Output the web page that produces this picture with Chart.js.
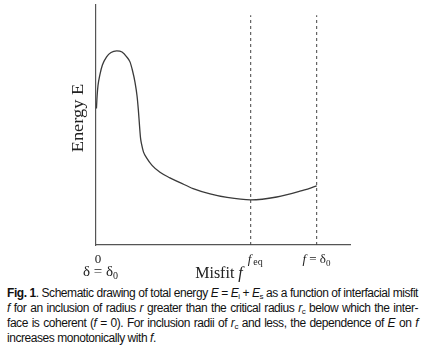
<!DOCTYPE html>
<html>
<head>
<meta charset="utf-8">
<script src="https://cdn.jsdelivr.net/npm/chart.js@4.4.1/dist/chart.umd.min.js"></script>
<style>
  html, body { margin: 0; padding: 0; background: #fff; }
  body { width: 424px; height: 351px; position: relative; overflow: hidden; }
  #wrap { position: absolute; left: 0; top: 0; width: 424px; height: 285px; }
  #caption {
    position: absolute; left: 7px; top: 286px; width: 411px;
    font-family: 'Liberation Sans', Arial, sans-serif; font-size: 12px;
    line-height: 15px; letter-spacing: -0.45px; color: #111;
    text-align: justify;
  }
  #caption sub { font-size: 8px; vertical-align: -2px; line-height: 0; }
</style>
</head>
<body>
<div id="wrap"><canvas id="energy-chart-canvas"></canvas></div>
<div id="caption"><b>Fig. 1</b>. Schematic drawing of total energy <i>E</i> = <i>E</i><sub>i</sub> + <i>E</i><sub>s</sub> as a function of interfacial misfit <i>f</i> for an inclusion of radius <i>r</i> greater than the critical radius <i>r</i><sub>c</sub> below which the inter-face is coherent (<i>f</i> = 0). For inclusion radii of <i>r</i><sub>c</sub> and less, the dependence of <i>E</i> on <i>f</i> increases monotonically with <i>f</i>.</div>
<script>
// misfit f (delta0 = 1) and energy E
const misfit = [0.002, 0.005, 0.009, 0.018, 0.029, 0.048, 0.068, 0.094, 0.118, 0.139, 0.154, 0.165, 0.177, 0.186, 0.192, 0.196, 0.199, 0.202, 0.207, 0.215, 0.230, 0.254, 0.290, 0.335, 0.381, 0.440, 0.517, 0.594, 0.701, 0.819, 0.924, 1.0];
const energy = [0.569, 0.621, 0.664, 0.711, 0.750, 0.784, 0.802, 0.809, 0.804, 0.784, 0.763, 0.728, 0.677, 0.621, 0.562, 0.513, 0.475, 0.444, 0.418, 0.388, 0.362, 0.332, 0.303, 0.280, 0.260, 0.235, 0.213, 0.198, 0.188, 0.200, 0.224, 0.246];
const fEq = 0.701;
const delta0 = 1.0;
const dashTop = 0.957;
const xMax = 1.151;

const curve = misfit.map((x, i) => ({ x: x, y: energy[i] }));

let labelsPlugin = {
    id: 'axisLabels',
    afterDraw(chart) {
        const ctx = chart.ctx;
        const xs = chart.scales.x;
        const area = chart.chartArea;
        const serif = "'Liberation Serif', 'DejaVu Serif', serif";
        ctx.save();
        ctx.fillStyle = '#222';
        ctx.textBaseline = 'alphabetic';
        ctx.textAlign = 'left';

        // "0" and "δ = δ0" under the origin
        let x0 = xs.getPixelForValue(0);
        ctx.font = '13px ' + serif;
        ctx.textAlign = 'center';
        ctx.fillText('0', x0 + 2, area.bottom + 18);
        ctx.font = '15px ' + serif;
        ctx.textAlign = 'left';
        let w1 = ctx.measureText('δ = δ').width;
        ctx.fillText('δ = δ', x0 + 5 - (w1 + 6) / 2, area.bottom + 31);
        ctx.font = '10px ' + serif;
        ctx.fillText('0', x0 + 5 - (w1 + 6) / 2 + w1, area.bottom + 34);

        // f_eq, sitting just right of the dashed line
        let xe = xs.getPixelForValue(fEq);
        let sx = xe - 3;
        ctx.font = 'italic 13px ' + serif;
        let wf = ctx.measureText('f').width;
        ctx.fillText('f', sx, area.bottom + 18);
        ctx.font = '10px ' + serif;
        ctx.fillText('eq', sx + wf + 2, area.bottom + 20);

        // f = δ0
        let xd = xs.getPixelForValue(delta0);
        ctx.font = 'italic 13px ' + serif;
        let wa = ctx.measureText('f').width;
        ctx.font = '13px ' + serif;
        let wb = ctx.measureText(' = δ').width;
        let sx2 = xd - (wa + wb + 5) / 2;
        ctx.font = 'italic 13px ' + serif;
        ctx.fillText('f', sx2, area.bottom + 18);
        ctx.font = '13px ' + serif;
        ctx.fillText(' = δ', sx2 + wa, area.bottom + 18);
        ctx.font = '9px ' + serif;
        ctx.fillText('0', sx2 + wa + wb, area.bottom + 21);

        // axis title "Misfit f"
        ctx.font = '16px ' + serif;
        let wm = ctx.measureText('Misfit ').width;
        ctx.font = 'italic 16px ' + serif;
        let wi = ctx.measureText('f').width;
        let mx = 219 - (wm + wi) / 2;
        ctx.font = '16px ' + serif;
        ctx.fillText('Misfit ', mx, area.bottom + 33);
        ctx.font = 'italic 16px ' + serif;
        ctx.fillText('f', mx + wm, area.bottom + 33);

        // y title "Energy E"
        ctx.translate(83, 118);
        ctx.rotate(-Math.PI / 2);
        ctx.scale(1.15, 1);
        ctx.font = '16px ' + serif;
        ctx.textAlign = 'center';
        ctx.fillText('Energy E', 0, 0);
        ctx.restore();
    }
};

let energyCtx = document.getElementById('energy-chart-canvas').getContext('2d');
let energyChart = new Chart(energyCtx, {
    type: 'scatter',
    data: {
        datasets: [{
            label: 'E',
            data: curve,
            showLine: true,
            borderColor: '#3a3a3a',
            borderWidth: 1.3,
            pointRadius: 0,
            cubicInterpolationMode: 'monotone'
        }, {
            label: 'f_eq',
            data: [{ x: fEq, y: 0 }, { x: fEq, y: dashTop }],
            showLine: true,
            borderColor: '#444',
            borderWidth: 1,
            borderDash: [3, 3],
            pointRadius: 0
        }, {
            label: 'delta0',
            data: [{ x: delta0, y: 0 }, { x: delta0, y: dashTop }],
            showLine: true,
            borderColor: '#444',
            borderWidth: 1,
            borderDash: [3, 3],
            pointRadius: 0
        }]
    },
    options: {
        responsive: true,
        maintainAspectRatio: false,
        animation: false,
        layout: {
            padding: { left: 96, top: 5, right: 74, bottom: 40 }
        },
        scales: {
            x: {
                type: 'linear',
                min: 0,
                max: xMax,
                grid: { display: false, drawTicks: false },
                border: { display: true, color: '#555', width: 1.2 },
                ticks: { display: false }
            },
            y: {
                type: 'linear',
                min: 0,
                max: 1,
                grid: { display: false, drawTicks: false },
                border: { display: true, color: '#555', width: 1.2 },
                ticks: { display: false }
            }
        },
        plugins: {
            legend: { display: false },
            tooltip: { enabled: false }
        }
    },
    plugins: [labelsPlugin]
});
</script>
</body>
</html>
